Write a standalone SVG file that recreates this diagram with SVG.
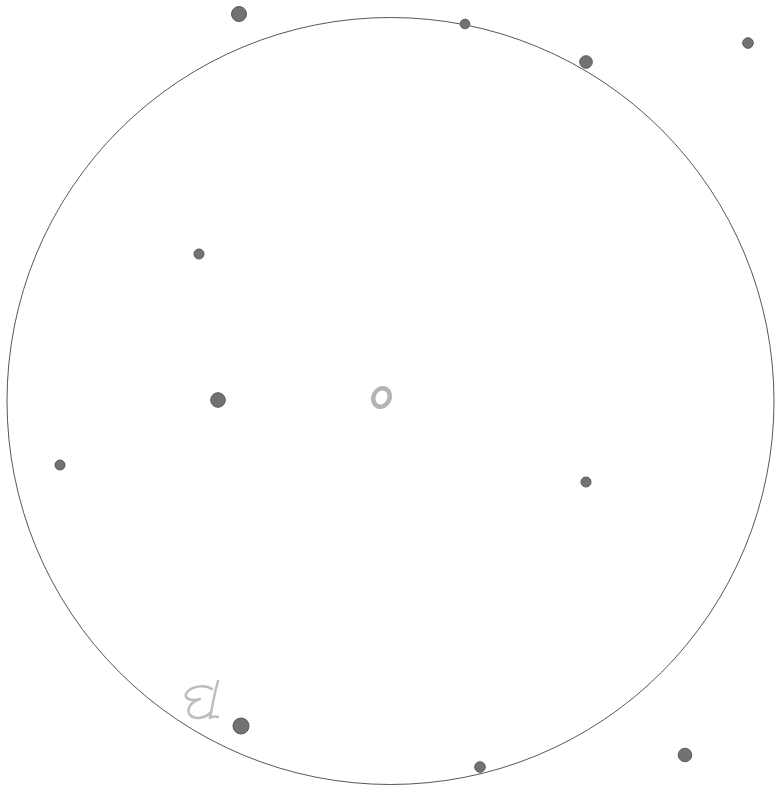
<svg xmlns="http://www.w3.org/2000/svg" width="779" height="799" viewBox="0 0 779 799">
<style>
.star{fill:#727272;stroke:#595959;stroke-width:1}
.ring{fill:none;stroke:#444;stroke-width:0.9}
.mark{fill:none;stroke:#bdbdbd;stroke-width:2.5;stroke-linecap:round;stroke-linejoin:round}
</style>
<rect width="779" height="799" fill="#fff"/>
<g id="field"><circle class="ring" cx="390.5" cy="401" r="383.5"/></g>
<g id="object"><ellipse cx="381.5" cy="397.5" rx="8" ry="9.5" fill="none" stroke="#b4b4b4" stroke-width="4.5" transform="rotate(25 381.5 397.5)"/></g>
<g id="stars">
<circle id="s1" class="star" cx="239" cy="14" r="7.5"/>
<circle id="s2" class="star" cx="465" cy="24" r="4.8"/>
<circle id="s3" class="star" cx="586" cy="62" r="6.3"/>
<circle id="s4" class="star" cx="748" cy="43" r="5.3"/>
<circle id="s5" class="star" cx="199" cy="254" r="5"/>
<circle id="s6" class="star" cx="218" cy="400" r="7.3"/>
<circle id="s7" class="star" cx="60" cy="465" r="5"/>
<circle id="s8" class="star" cx="586" cy="482" r="5"/>
<circle id="s9" class="star" cx="241" cy="726" r="8"/>
<circle id="s10" class="star" cx="480" cy="767" r="5.3"/>
<circle id="s11" class="star" cx="685" cy="755" r="6.8"/>
</g>
<g id="marker">
<path class="mark" d="M212,689 C205,684 190,686 186,694 C184,700 194,701 200,699 C190,702 186,710 190,715 C195,720 205,718 210,713"/>
<path class="mark" d="M218,681 C214,695 212,708 210,718 C213,716 215,716 218,717"/>
</g>
</svg>
